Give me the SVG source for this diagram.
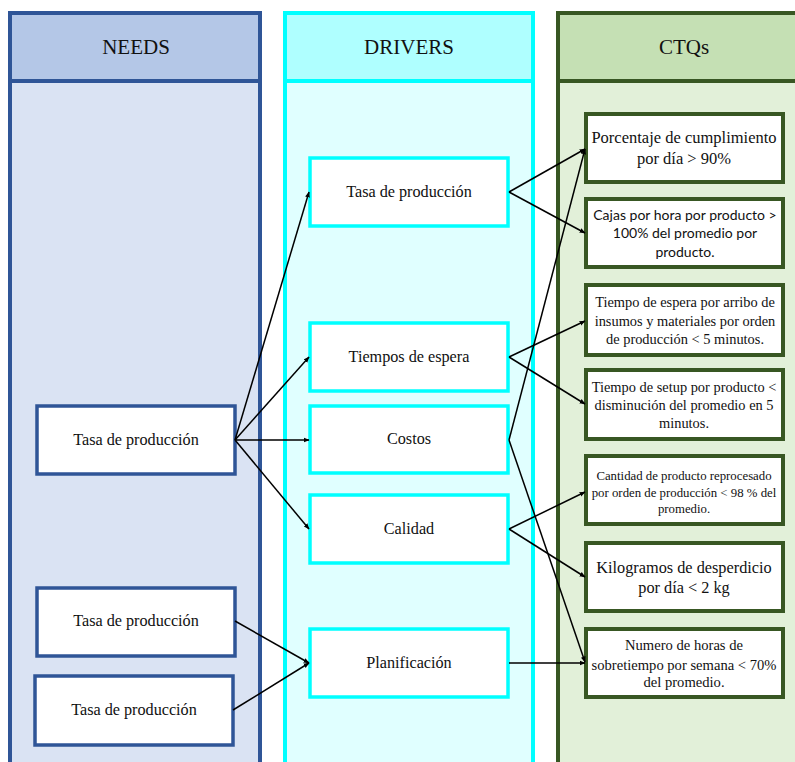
<svg xmlns="http://www.w3.org/2000/svg" width="795" height="762" viewBox="0 0 795 762">
  <style>
    .serif { font-family: "Liberation Serif", "Times New Roman", serif; fill: #111; text-anchor: middle; }
    .sans { font-family: Lato, "Liberation Sans", sans-serif; fill: #111; text-anchor: middle; }
    .hdr { font-size: 21px; }
    .lbl { font-size: 16.2px; }
    .need { fill: #fff; stroke: #2F5597; stroke-width: 3.5; }
    .drv { fill: #fff; stroke: #00FFFF; stroke-width: 3.5; }
    .ctq { fill: #fff; stroke: #385723; stroke-width: 4; }
    .link { fill: none; stroke: #000; stroke-width: 1.5; marker-end: url(#arrow); }
  </style>
  <defs>
    <marker id="arrow" viewBox="0 0 10 10" refX="9" refY="5" markerWidth="6" markerHeight="6" orient="auto" markerUnits="userSpaceOnUse">
      <path d="M0,1 L10,5 L0,9 z" fill="#000"/>
    </marker>
  </defs>
  <rect width="795" height="762" fill="#fff"/>

  <!-- column lanes -->
  <g id="lane-needs">
    <rect x="10" y="81" width="250" height="700" fill="#DAE3F3" stroke="#2F5597" stroke-width="4"/>
    <rect x="10" y="13" width="250" height="68" fill="#B4C7E7" stroke="#2F5597" stroke-width="4"/>
    <text class="serif hdr" x="136" y="54">NEEDS</text>
  </g>
  <g id="lane-drivers">
    <rect x="285" y="81" width="248" height="700" fill="#E0FFFF" stroke="#00FFFF" stroke-width="4"/>
    <rect x="285" y="13" width="248" height="68" fill="#AFFFFF" stroke="#00FFFF" stroke-width="4"/>
    <text class="serif hdr" x="409" y="54">DRIVERS</text>
  </g>
  <g id="lane-ctqs">
    <rect x="558" y="81" width="260" height="700" fill="#E2F0D9" stroke="#385723" stroke-width="4"/>
    <rect x="558" y="13" width="260" height="68" fill="#C5E0B4" stroke="#385723" stroke-width="4"/>
    <text class="serif hdr" x="684" y="54">CTQs</text>
  </g>

  <!-- needs -->
  <g id="need-1">
    <rect class="need" x="37" y="406" width="198" height="68"/>
    <text class="serif lbl" x="136" y="445">Tasa de producción</text>
  </g>
  <g id="need-2">
    <rect class="need" x="37" y="588" width="198" height="68"/>
    <text class="serif lbl" x="136" y="626">Tasa de producción</text>
  </g>
  <g id="need-3">
    <rect class="need" x="35" y="676" width="198" height="69"/>
    <text class="serif lbl" x="134" y="715">Tasa de producción</text>
  </g>

  <!-- drivers -->
  <g id="driver-tasa">
    <rect class="drv" x="310" y="158" width="198" height="68"/>
    <text class="serif lbl" x="409" y="197">Tasa de producción</text>
  </g>
  <g id="driver-tiempos">
    <rect class="drv" x="310" y="323" width="198" height="68"/>
    <text class="serif lbl" x="409" y="362">Tiempos de espera</text>
  </g>
  <g id="driver-costos">
    <rect class="drv" x="310" y="406" width="198" height="67"/>
    <text class="serif lbl" x="409" y="444">Costos</text>
  </g>
  <g id="driver-calidad">
    <rect class="drv" x="310" y="495" width="198" height="68"/>
    <text class="serif lbl" x="409" y="534">Calidad</text>
  </g>
  <g id="driver-planificacion">
    <rect class="drv" x="310" y="629" width="198" height="68"/>
    <text class="serif lbl" x="409" y="668">Planificación</text>
  </g>

  <!-- CTQs -->
  <g id="ctq-1">
    <rect class="ctq" x="586" y="114" width="197" height="68"/>
    <text class="serif" font-size="16.5" x="684" y="143">Porcentaje de cumplimiento</text>
    <text class="serif" font-size="16.5" x="684" y="164">por día &gt; 90%</text>
  </g>
  <g id="ctq-2">
    <rect class="ctq" x="586" y="199" width="197" height="68"/>
    <text class="sans" font-size="14" x="685" y="220">Cajas por hora por producto &gt;</text>
    <text class="sans" font-size="14" x="685" y="238">100% del promedio por</text>
    <text class="sans" font-size="14" x="685" y="257">producto.</text>
  </g>
  <g id="ctq-3">
    <rect class="ctq" x="586" y="285" width="197" height="70"/>
    <text class="serif" font-size="14.4" x="685" y="307">Tiempo de espera por arribo de</text>
    <text class="serif" font-size="14.4" x="685" y="326">insumos y materiales por orden</text>
    <text class="serif" font-size="14.4" x="685" y="344">de producción &lt; 5 minutos.</text>
  </g>
  <g id="ctq-4">
    <rect class="ctq" x="586" y="370" width="197" height="69"/>
    <text class="serif" font-size="14.4" x="684" y="392">Tiempo de setup por producto &lt;</text>
    <text class="serif" font-size="14.4" x="684" y="410">disminución del promedio en 5</text>
    <text class="serif" font-size="14.4" x="684" y="428">minutos.</text>
  </g>
  <g id="ctq-5">
    <rect class="ctq" x="586" y="456" width="197" height="68"/>
    <text class="serif" font-size="12.8" x="684" y="480">Cantidad de producto reprocesado</text>
    <text class="serif" font-size="12.8" x="684" y="497">por orden de producción &lt; 98 % del</text>
    <text class="serif" font-size="12.8" x="684" y="513">promedio.</text>
  </g>
  <g id="ctq-6">
    <rect class="ctq" x="586" y="543" width="197" height="68"/>
    <text class="serif" font-size="16.3" x="684" y="573">Kilogramos de desperdicio</text>
    <text class="serif" font-size="16.3" x="684" y="593">por día &lt; 2 kg</text>
  </g>
  <g id="ctq-7">
    <rect class="ctq" x="586" y="629" width="197" height="68"/>
    <text class="serif" font-size="14.6" x="684" y="650">Numero de horas de</text>
    <text class="serif" font-size="14.6" x="684" y="670">sobretiempo por semana &lt; 70%</text>
    <text class="serif" font-size="14.6" x="684" y="687">del promedio.</text>
  </g>

  <!-- connectors -->
  <g id="connectors">
    <line class="link" x1="235" y1="440" x2="309" y2="192"/>
    <line class="link" x1="235" y1="440" x2="309" y2="357"/>
    <line class="link" x1="235" y1="440" x2="309" y2="440"/>
    <line class="link" x1="235" y1="440" x2="309" y2="529"/>
    <line class="link" x1="235" y1="621" x2="309" y2="663"/>
    <line class="link" x1="233" y1="710" x2="309" y2="663"/>

    <line class="link" x1="509" y1="192" x2="585" y2="149"/>
    <line class="link" x1="509" y1="192" x2="585" y2="233"/>
    <line class="link" x1="509" y1="357" x2="585" y2="321"/>
    <line class="link" x1="509" y1="357" x2="585" y2="404"/>
    <line class="link" x1="509" y1="440" x2="585" y2="149"/>
    <line class="link" x1="509" y1="440" x2="585" y2="662"/>
    <line class="link" x1="509" y1="529" x2="585" y2="492"/>
    <line class="link" x1="509" y1="529" x2="585" y2="577"/>
    <line class="link" x1="509" y1="663" x2="585" y2="663"/>
  </g>
</svg>
